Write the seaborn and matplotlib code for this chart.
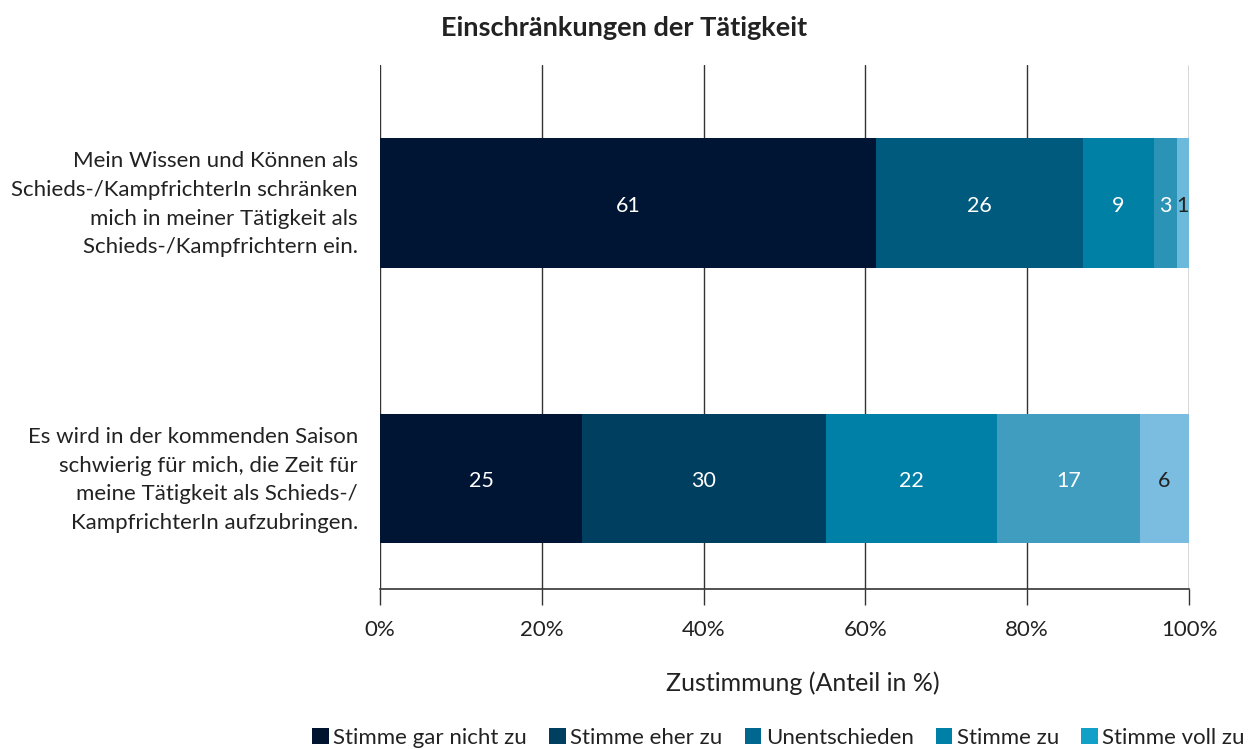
import matplotlib
matplotlib.use("Agg")
import matplotlib.pyplot as plt
import matplotlib.transforms as mtransforms
import seaborn as sns
import pandas as pd
from matplotlib.patches import Patch

categories = [
    "Mein Wissen und Können als\nSchieds-/KampfrichterIn schränken\nmich in meiner Tätigkeit als\nSchieds-/Kampfrichtern ein.",
    "Es wird in der kommenden Saison\nschwierig für mich, die Zeit für\nmeine Tätigkeit als Schieds-/\nKampfrichterIn aufzubringen.",
]
series = ["Stimme gar nicht zu", "Stimme eher zu", "Unentschieden", "Stimme zu", "Stimme voll zu"]
values_q1 = [61.3, 25.6, 8.8, 2.8, 1.5]
values_q2 = [25.0, 30.1, 21.2, 17.6, 6.1]
labels_q1 = ["61", "26", "9", "3", "1"]
labels_q2 = ["25", "30", "22", "17", "6"]

colors_q1 = ["#001533", "#005a7d", "#0080a5", "#2a93b6", "#6bbadb"]
colors_q2 = ["#001533", "#003f5f", "#0080a6", "#409dbf", "#7abde0"]
legend_colors = ["#00132f", "#003f5f", "#006890", "#0080a6", "#10a0c8"]
label_text_colors_q1 = ["white", "white", "white", "white", "#222222"]
label_text_colors_q2 = ["white", "white", "white", "white", "#222222"]

sns.set_theme(style="white")
plt.rcParams["font.family"] = ["Lato", "DejaVu Sans"]

fig = plt.figure(figsize=(12.6, 7.49), dpi=100)
ax = fig.add_axes([380 / 1260, 1 - 589 / 749, (1189 - 380) / 1260, (589 - 65) / 749])

n = len(series)
cums_q1 = [sum(values_q1[: i + 1]) for i in range(n)]
cums_q2 = [sum(values_q2[: i + 1]) for i in range(n)]

for i in reversed(range(n)):
    df = pd.DataFrame({"cat": categories, "val": [cums_q1[i], cums_q2[i]]})
    sns.barplot(data=df, x="val", y="cat", hue="cat", palette=[colors_q1[i], colors_q2[i]],
                orient="h", width=0.47, saturation=1, legend=False, ax=ax,
                linewidth=0, edgecolor="none", zorder=2)

for row, (vals, labs, tcols) in enumerate([(values_q1, labels_q1, label_text_colors_q1),
                                           (values_q2, labels_q2, label_text_colors_q2)]):
    left = 0
    for v, lab, tc in zip(vals, labs, tcols):
        ax.text(left + v / 2, row + 0.01, lab, ha="center", va="center", color=tc, fontsize=15.5, zorder=5)
        left += v

ax.set_xlim(0, 100)
ax.set_ylim(1.40, -0.50)
ax.set_xticks([0, 20, 40, 60, 80, 100])
ax.set_xticklabels(["0%", "20%", "40%", "60%", "80%", "100%"], fontsize=16, color="#222222")
ax.tick_params(axis="x", direction="out", length=11.5, width=1, color="#333333", pad=11, bottom=True)
ax.tick_params(axis="y", length=0, pad=16)
offset = mtransforms.ScaledTranslation(0, 5 / 100, fig.dpi_scale_trans)
for lab in ax.get_yticklabels():
    lab.set_fontsize(16)
    lab.set_color("#222222")
    lab.set_linespacing(1.55)
    lab.set_horizontalalignment("right")
    lab.set_transform(lab.get_transform() + offset)
ax.set_xlabel("")
ax.set_ylabel("")
ax.grid(axis="x", color="#333333", linewidth=1, zorder=0)
ax.set_axisbelow(True)
for s in ["top", "right", "left"]:
    ax.spines[s].set_visible(False)
ax.spines["bottom"].set_color("#333333")
ax.spines["bottom"].set_linewidth(1.2)

fig.text(624 / 1260, 1 - 28 / 749, "Einschränkungen der Tätigkeit", ha="center", va="center",
         fontsize=19.5, fontweight="bold", color="#222222")
fig.text(803 / 1260, 1 - 683 / 749, "Zustimmung (Anteil in %)", ha="center", va="center",
         fontsize=18, color="#222222")

handles = [Patch(facecolor=c, edgecolor="none", label=s) for c, s in zip(legend_colors, series)]
fig.legend(handles=handles, loc="center right", bbox_to_anchor=(1245 / 1260, 1 - 738 / 749),
           ncol=5, frameon=False, fontsize=16, handlelength=0.75, handleheight=0.75,
           handletextpad=0.2, columnspacing=1.0, borderaxespad=0, borderpad=0,
           labelcolor="#222222")

fig.savefig("out.png", dpi=100)
